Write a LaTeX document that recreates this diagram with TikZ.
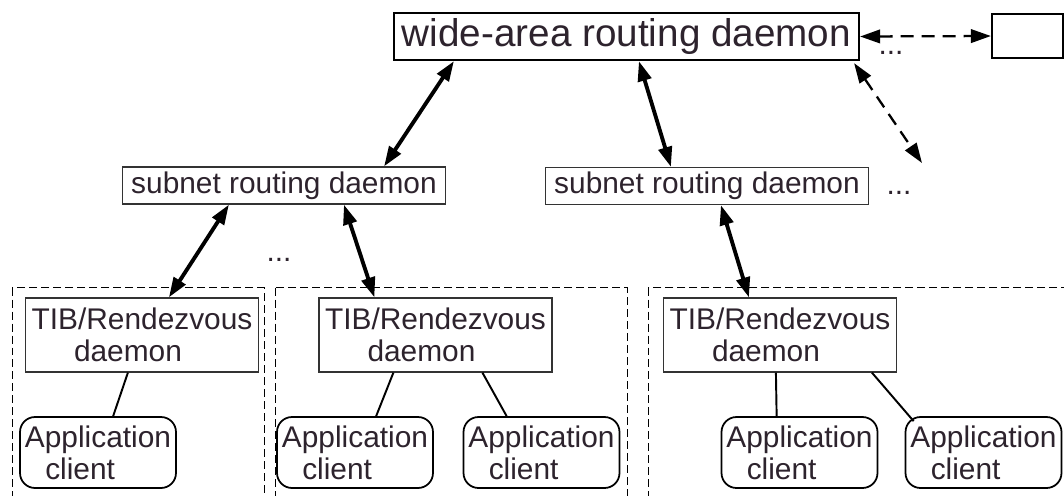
\documentclass[tikz,border=0pt]{standalone}
\usepackage{fontspec}
\setmainfont{Liberation Sans}
\usetikzlibrary{arrows.meta,calc}
\definecolor{ink}{RGB}{45,35,45}
\tikzset{
  >={Triangle[length=4mm,width=2.7mm]},
  wan/.style={draw, line width=1.3pt, minimum width=9.3cm, minimum height=0.94cm, inner sep=0pt, text=ink, font=\fontsize{22}{26}\selectfont},
  peer/.style={draw, line width=1.3pt, minimum width=1.42cm, minimum height=0.88cm},
  subnet/.style={draw=black!80, line width=0.7pt, minimum width=6.46cm, minimum height=0.74cm, inner sep=0pt, text=ink, font=\fontsize{17}{18}\selectfont},
  tib/.style={draw=black!80, line width=0.7pt, minimum width=4.66cm, minimum height=1.48cm, inner sep=0pt, align=left, text=ink, font=\fontsize{17}{18}\selectfont},
  app/.style={draw, rounded corners=3mm, line width=1pt, minimum width=3.12cm, minimum height=1.42cm, inner sep=0pt, align=left, text=ink, font=\fontsize{17}{18}\selectfont},
  dots/.style={anchor=base, inner sep=0pt, text=ink, font=\fontsize{17}{18}\selectfont},
  link/.style={<->, line width=2.2pt},
  farlink/.style={<->, line width=1.3pt, dash pattern=on 2.6mm off 1.6mm},
  leaf/.style={line width=1.1pt},
  group/.style={draw, line width=0.5pt, dash pattern=on 1.6mm off 0.8mm},
}

\begin{document}
\begin{tikzpicture}[x=0.02cm, y=-0.02cm]
  \clip (0,0) rectangle (1064,495);
  \foreach \l/\r in {12/264, 275/627, 648/1080}
    \draw[group] (\l,287.5) rectangle (\r,510);

  \node[wan] (wide) at (626.5,36.5) {wide-area routing daemon};
  \node[peer] (peer) at (1027.5,36) {};
  \node[dots] at (891,54) {...};
  \coordinate (more) at (922,163);

  \node[subnet] (subnet1) at (284,185.5) {subnet routing daemon};
  \node[subnet] (subnet2) at (707,186) {subnet routing daemon};
  \node[dots] at (899,194) {...};
  \node[dots] at (279,261) {...};

  \foreach \n/\x in {tib1/142, tib2/435.5, tib3/780}
    \node[tib] (\n) at (\x,335) {TIB/Rendezvous\\\hspace*{1.42em}daemon};
  \foreach \n/\x in {app1/98, app2/355, app3/541.5, app4/799.5, app5/983.5}
    \node[app] (\n) at (\x,452.5) {Application\\\hspace*{0.68em}client};

  \draw[link] ($(wide.south west)+(61,0)$) -- ($(subnet1.north east)+(-62,0)$);
  \draw[link] ($(wide.south west)+(246,0)$) -- ($(subnet2.north west)+(126,0)$);
  \draw[farlink] (wide.east) -- (peer.west);
  \draw[farlink] ($(wide.south east)+(-6,2)$) -- (more);
  \draw[link] ($(subnet1.south west)+(107,0)$) -- ($(tib1.north west)+(144,0)$);
  \draw[link] ($(subnet1.south west)+(222,0)$) -- ($(tib2.north west)+(56,0)$);
  \draw[link] ($(subnet2.south west)+(176,0)$) -- ($(tib3.north west)+(86,0)$);

  \draw[leaf] ($(tib1.south west)+(103,0)$) -- ($(app1.north west)+(94,0)$);
  \draw[leaf] ($(tib2.south west)+(75,0)$) -- ($(app2.north west)+(100,0)$);
  \draw[leaf] ($(tib2.south west)+(164,0)$) -- ($(app3.north west)+(44,0)$);
  \draw[leaf] ($(tib3.south west)+(113,0)$) -- ($(app4.north west)+(56,0)$);
  \draw[leaf] ($(tib3.south west)+(209,0)$) -- ($(app5.north west)+(9,5)$);
\end{tikzpicture}
\end{document}
